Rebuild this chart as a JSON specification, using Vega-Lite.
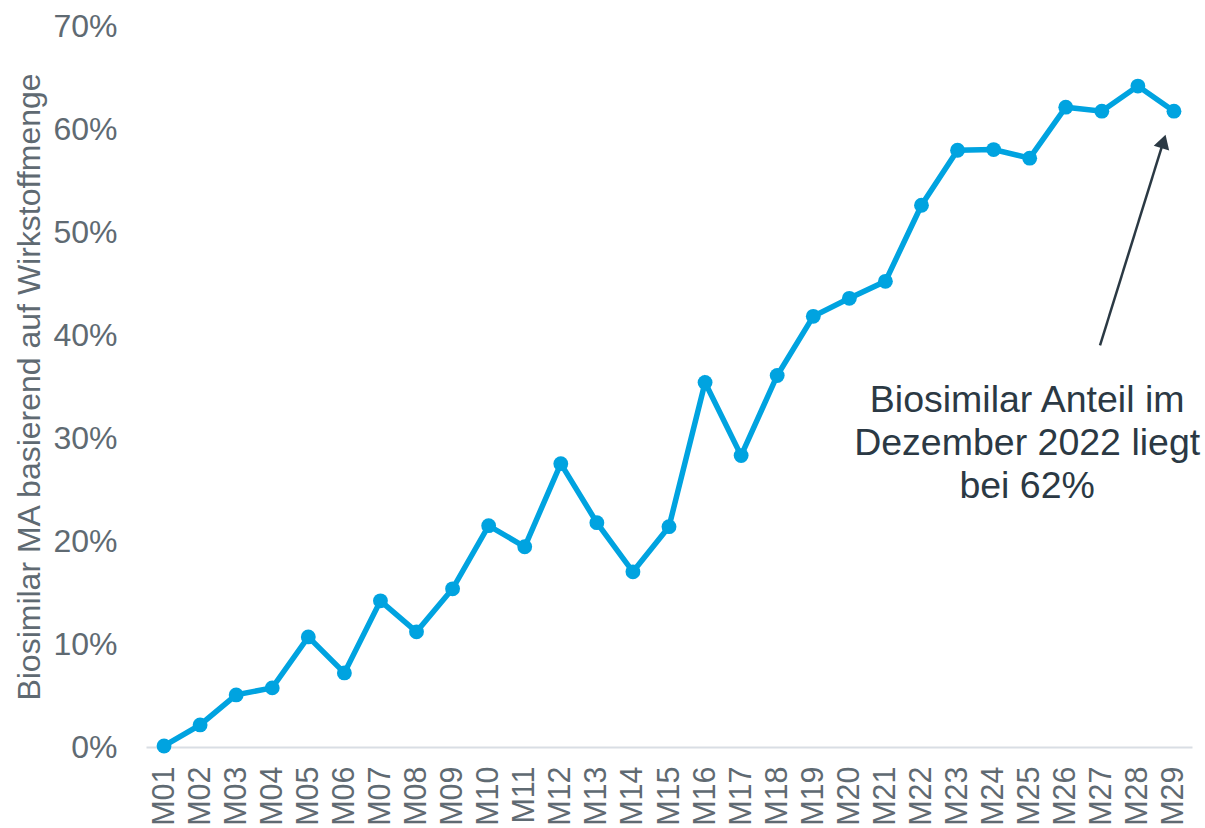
{
  "$schema": "https://vega.github.io/schema/vega-lite/v6.json",
  "width": 1046,
  "height": 721,
  "autosize": "none",
  "padding": {"left": 146, "top": 26, "right": 13, "bottom": 81},
  "background": "white",
  "config": {"view": {"stroke": null}, "font": "Liberation Sans"},
  "datasets": {
    "share": [
      {"month": "M01", "value": 0.001},
      {"month": "M02", "value": 0.0214},
      {"month": "M03", "value": 0.0506},
      {"month": "M04", "value": 0.0574},
      {"month": "M05", "value": 0.1069},
      {"month": "M06", "value": 0.0719},
      {"month": "M07", "value": 0.1419},
      {"month": "M08", "value": 0.1118},
      {"month": "M09", "value": 0.1536},
      {"month": "M10", "value": 0.2149},
      {"month": "M11", "value": 0.1944},
      {"month": "M12", "value": 0.2751},
      {"month": "M13", "value": 0.2178},
      {"month": "M14", "value": 0.1701},
      {"month": "M15", "value": 0.2139},
      {"month": "M16", "value": 0.3539},
      {"month": "M17", "value": 0.2829},
      {"month": "M18", "value": 0.3607},
      {"month": "M19", "value": 0.4181},
      {"month": "M20", "value": 0.4356},
      {"month": "M21", "value": 0.4521},
      {"month": "M22", "value": 0.526},
      {"month": "M23", "value": 0.5794},
      {"month": "M24", "value": 0.58},
      {"month": "M25", "value": 0.5717},
      {"month": "M26", "value": 0.6212},
      {"month": "M27", "value": 0.6173},
      {"month": "M28", "value": 0.6417},
      {"month": "M29", "value": 0.6173}
    ]
  },
  "layer": [
    {
      "data": {"name": "share"},
      "encoding": {
        "x": {
          "field": "month",
          "type": "ordinal",
          "scale": {"type": "point", "padding": 0.5},
          "axis": {
            "title": null,
            "labelAngle": -90,
            "labelFontSize": 30.5,
            "labelColor": "#5f6a72",
            "labelPadding": 19,
            "ticks": false,
            "domainColor": "#d9dee4",
            "domainWidth": 2
          }
        },
        "y": {
          "field": "value",
          "type": "quantitative",
          "scale": {"domain": [0, 0.7], "nice": false},
          "axis": {
            "format": ".0%",
            "values": [0, 0.1, 0.2, 0.3, 0.4, 0.5, 0.6, 0.7],
            "grid": false,
            "domain": false,
            "ticks": false,
            "labelFontSize": 32,
            "labelColor": "#5f6a72",
            "labelPadding": 29,
            "title": "Biosimilar MA basierend auf Wirkstoffmenge",
            "titleFontSize": 32,
            "titleFontWeight": "normal",
            "titleColor": "#5f6a72",
            "titlePadding": 6
          }
        }
      },
      "layer": [
        {"mark": {"type": "line", "color": "#00a3e0", "strokeWidth": 5.5}},
        {"mark": {"type": "point", "filled": true, "size": 220, "color": "#00a3e0", "opacity": 1}}
      ]
    },
    {
      "encoding": {
        "x": {"type": "quantitative", "scale": {"domain": [0.5, 29.5], "nice": false, "zero": false}, "axis": null}
      },
      "layer": [
        {
          "data": {"values": [{"xs": 26.95, "ys": 0.39, "xe": 28.71, "ye": 0.588}]},
          "mark": {"type": "rule", "color": "#2b3944", "strokeWidth": 2.5},
          "encoding": {
            "x": {"field": "xs", "type": "quantitative", "scale": {"domain": [0.5, 29.5], "nice": false, "zero": false}, "axis": null},
            "y": {"field": "ys", "type": "quantitative"},
            "x2": {"field": "xe"},
            "y2": {"field": "ye"}
          }
        },
        {
          "data": {"values": [{"xh": 28.71, "yh": 0.588}]},
          "mark": {"type": "point", "shape": "triangle-up", "filled": true, "size": 260, "color": "#2b3944", "opacity": 1, "angle": 17},
          "encoding": {
            "x": {"field": "xh", "type": "quantitative", "scale": {"domain": [0.5, 29.5], "nice": false, "zero": false}, "axis": null},
            "y": {"field": "yh", "type": "quantitative"}
          }
        },
        {
          "data": {"values": [{"xt": 24.93, "yt": 0.325, "label": "Biosimilar Anteil im\nDezember 2022 liegt\nbei 62%"}]},
          "mark": {"type": "text", "lineBreak": "\n", "align": "center", "baseline": "alphabetic", "fontSize": 37.5, "lineHeight": 43, "color": "#2b3944"},
          "encoding": {
            "x": {"field": "xt", "type": "quantitative", "scale": {"domain": [0.5, 29.5], "nice": false, "zero": false}, "axis": null},
            "y": {"field": "yt", "type": "quantitative"},
            "text": {"field": "label"}
          }
        }
      ]
    }
  ],
  "resolve": {"scale": {"x": "independent"}}
}
